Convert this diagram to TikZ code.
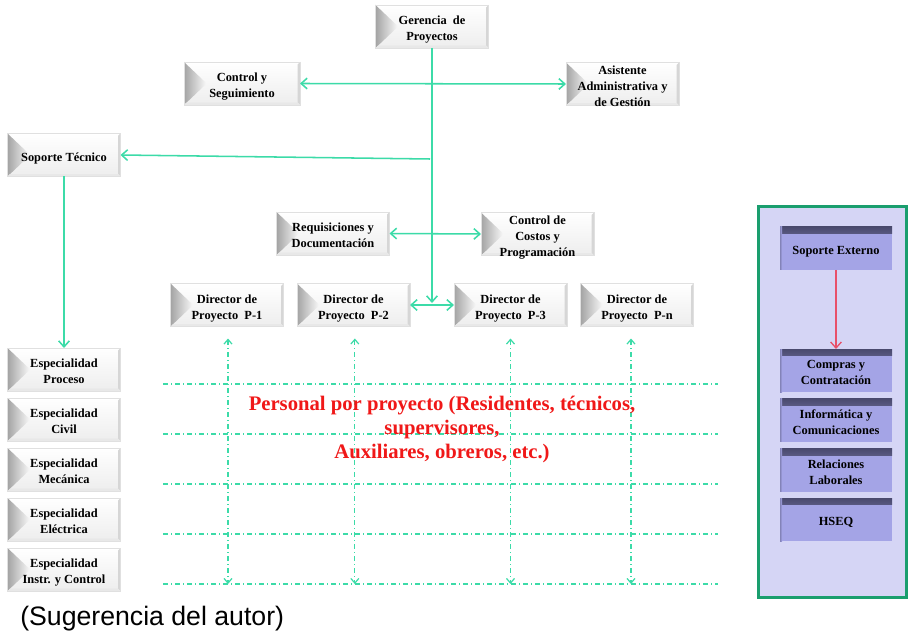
\documentclass[tikz,border=0pt]{standalone}
\usepackage{fontspec}
\setmainfont{Liberation Serif}
\newfontfamily\notesans{Liberation Sans}
\usetikzlibrary{arrows.meta}

\definecolor{link}{HTML}{3CDBA8}
\definecolor{frameg}{HTML}{1A9E6E}
\definecolor{lav}{HTML}{D5D5F5}
\definecolor{unit}{HTML}{A4A4E6}
\definecolor{unitdark}{HTML}{4A4A6E}
\definecolor{staff}{HTML}{F01818}
\definecolor{redlink}{HTML}{E8506A}

% centred stack of lines, set slightly low inside its box
\newcommand\bx[1]{\raisebox{-4.7pt}[0pt][0pt]{\begin{tabular}{@{}c@{}}#1\end{tabular}}}

\tikzset{
  boxfont/.style={font=\fontsize{9.3}{12}\selectfont\bfseries},
  % bevelled grey-white box
  orgbox/.style={boxfont, minimum width=84.75pt, minimum height=32.25pt,
    inner sep=0pt, outer sep=0pt, draw=black!12, line width=0.4pt,
    path picture={
      \shade[top color=white, bottom color=black!7]
        (path picture bounding box.south west) rectangle (path picture bounding box.north east);
      \shade[left color=black!36, right color=black!2]
        (path picture bounding box.north west) -- ([xshift=17pt]path picture bounding box.west)
        -- (path picture bounding box.south west) -- cycle;
      \fill[black!16]
        (path picture bounding box.north east) -- ([xshift=-1.8pt,yshift=-1.8pt]path picture bounding box.north east)
        -- ([xshift=-1.8pt,yshift=1.8pt]path picture bounding box.south east) -- (path picture bounding box.south east) -- cycle;
      \fill[black!9]
        (path picture bounding box.south west) -- ([xshift=1.8pt,yshift=1.8pt]path picture bounding box.south west)
        -- ([xshift=-1.8pt,yshift=1.8pt]path picture bounding box.south east) -- (path picture bounding box.south east) -- cycle;
    }},
  % purple unit box with dark top shadow
  unitbox/.style={boxfont, minimum width=84pt, minimum height=32.25pt,
    inner sep=0pt, outer sep=0pt, fill=unit,
    path picture={
      \shade[top color=unitdark, bottom color=unit]
        (path picture bounding box.north west) rectangle ([yshift=-5pt]path picture bounding box.north east);
      \shade[left color=unit!80!black, right color=unit]
        (path picture bounding box.north west) rectangle ([xshift=1.5pt]path picture bounding box.south west);
    }},
  extpanel/.style={draw=frameg, line width=1.8pt, fill=lav,
    minimum width=111pt, minimum height=293pt, inner sep=0pt},
  conn/.style={draw=link, line width=1.15pt},
  dd/.style={draw=link, line width=0.9pt, dash pattern=on 4pt off 2pt on 1pt off 2pt},
  >={Straight Barb[length=4.5pt,width=8pt]},
  smalltip/.style={>={Straight Barb[length=3.5pt,width=6pt]}},
}

\begin{document}
\begin{tikzpicture}[x=0.75pt,y=-0.75pt]
  \useasboundingbox (0,0) rectangle (911,631);
  \fill[white] (0,0) rectangle (911,631);

  % management line
  \node[orgbox] (ger) at (432,26.5) {\bx{Gerencia\ \ de\\Proyectos}};
  \node[orgbox, minimum width=87pt] (ctl) at (242,83.5) {\bx{Control y\\Seguimiento}};
  \node[orgbox] (asi) at (622.5,84) {\bx{Asistente\\Administrativa y\\de Gestión}};
  \node[orgbox] (sop) at (64,155) {\bx{Soporte Técnico}};
  \node[orgbox] (req) at (333,233.5) {\bx{Requisiciones y\\Documentación}};
  \node[orgbox] (cos) at (537.5,234) {\bx{Control de\\Costos y\\Programación}};

  % project directors
  \node[orgbox] (d1) at (227,305) {\bx{Director de\\Proyecto\ \ P-1}};
  \node[orgbox] (d2) at (353.5,305) {\bx{Director de\\Proyecto\ \ P-2}};
  \node[orgbox] (d3) at (510.5,305) {\bx{Director de\\Proyecto\ \ P-3}};
  \node[orgbox] (dn) at (637,305) {\bx{Director de\\Proyecto\ \ P-n}};

  % specialities
  \node[orgbox] (e1) at (64,369.5) {\bx{Especialidad\\Proceso}};
  \node[orgbox] (e2) at (64,419.5) {\bx{Especialidad\\Civil}};
  \node[orgbox] (e3) at (64,469.5) {\bx{Especialidad\\Mecánica}};
  \node[orgbox] (e4) at (64,519.5) {\bx{Especialidad\\Eléctrica}};
  \node[orgbox] (e5) at (64,569.5) {\bx{Especialidad\\Instr. y Control}};

  % connectors from the management trunk
  \coordinate (hub) at (432,303);
  \coordinate (tap) at (430,159);
  \draw[conn,->] (ger.south) -- (hub);
  \draw[conn,<->] (ctl.east) -- (asi.west);
  \draw[conn,->] (tap) -- (sop.east);
  \draw[conn,->] (sop.south) -- (e1.north);
  \draw[conn,<->] (req.east) -- (cos.west);
  \draw[conn,<->] (d2.east) -- (d3.west);

  % staff grid
  \foreach \r/\yy in {1/384,2/434,3/484,4/534,5/584} {
    \coordinate (r\r w) at (163,\yy);
    \coordinate (r\r e) at (718,\yy);
    \draw[dd] (r\r w) -- (r\r e);
  }
  \draw[dd,smalltip,<->,shorten <=9pt] ([xshift=0.75pt]d1.south) -- ([xshift=0.75pt]d1.south |- r5w);
  \draw[dd,smalltip,<->,shorten <=9pt] ([xshift=1pt]d2.south) -- ([xshift=1pt]d2.south |- r5w);
  \draw[dd,smalltip,<->,shorten <=9pt] (d3.south) -- (d3.south |- r5w);
  \draw[dd,smalltip,<->,shorten <=9pt] ([xshift=-4.5pt]dn.south) -- ([xshift=-4.5pt]dn.south |- r5w);

  \node[font=\fontsize{15.5}{18}\selectfont\bfseries, text=staff, align=center] (staff) at (442,430)
    {Personal por proyecto (Residentes, técnicos,\\supervisores,\\Auxiliares, obreros, etc.)};

  % external support panel
  \node[extpanel] (ext) at (832.5,402) {};
  \node[unitbox] (sx) at (836,248.5) {\bx{Soporte Externo}};
  \node[unitbox] (u1) at (836,370.5) {\bx{Compras y\\Contratación}};
  \node[unitbox] (u2) at (836,420) {\bx{Informática y\\Comunicaciones}};
  \node[unitbox] (u3) at (836,470) {\bx{Relaciones\\Laborales}};
  \node[unitbox] (u4) at (836,519.5) {\bx{HSEQ}};
  \draw[draw=redlink, line width=1pt, ->] (sx.south) -- (u1.north);

  \node[font=\notesans\fontsize{20}{24}\selectfont, anchor=base west, inner sep=0pt] (note) at (20,625)
    {(Sugerencia del autor)};
\end{tikzpicture}
\end{document}
